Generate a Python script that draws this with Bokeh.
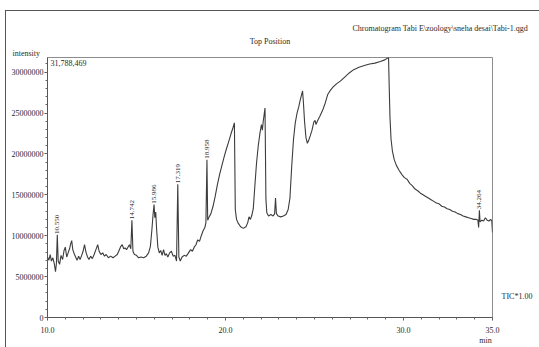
from bokeh.plotting import figure
from bokeh.models import Range1d, FixedTicker, Label, Title, LinearAxis
from bokeh.embed import file_html
from bokeh.resources import INLINE
from bokeh.core.properties import value

# ---- data (time in min, TIC intensity in millions of counts) ----
retention_time = [
    10.00, 10.08, 10.15, 10.22, 10.30, 10.38, 10.45, 10.50, 10.55, 10.60, 10.68, 10.76, 10.85, 10.93,
    11.00, 11.08, 11.16, 11.24, 11.30, 11.36, 11.42, 11.50, 11.58, 11.66, 11.75, 11.83, 11.92,
    12.00, 12.08, 12.16, 12.25, 12.33, 12.42, 12.52, 12.62, 12.72, 12.82, 12.90,
    13.00, 13.10, 13.20, 13.30, 13.42, 13.55, 13.68, 13.80, 13.92,
    14.02, 14.12, 14.20, 14.28, 14.36, 14.44, 14.52, 14.60, 14.68, 14.742, 14.80, 14.88,
    15.00, 15.12, 15.25, 15.40, 15.55, 15.68, 15.78, 15.86, 15.93, 15.986,
    16.03, 16.08, 16.13, 16.20, 16.28, 16.36, 16.44, 16.52, 16.60, 16.68, 16.76, 16.86, 16.96,
    17.06, 17.16, 17.25, 17.319, 17.38, 17.46, 17.56, 17.68, 17.80, 17.92,
    18.04, 18.14, 18.24, 18.34, 18.44, 18.54, 18.64, 18.74, 18.84, 18.90, 18.958,
    19.00, 19.08, 19.18, 19.30, 19.42, 19.55, 19.68, 19.80, 19.92,
    20.05, 20.18, 20.30, 20.42, 20.50, 20.55, 20.62, 20.72, 20.85,
    21.00, 21.15, 21.25, 21.32, 21.40, 21.48, 21.56, 21.64, 21.74, 21.84, 21.94,
    22.02, 22.07, 22.12, 22.22, 22.27, 22.32, 22.42, 22.55, 22.68, 22.76, 22.81, 22.86, 22.96,
    23.10, 23.25, 23.40, 23.52, 23.62, 23.72, 23.82, 23.92,
    24.02, 24.12, 24.20, 24.27, 24.33, 24.38, 24.44, 24.52, 24.60, 24.68, 24.76, 24.86, 24.96,
    25.03, 25.08, 25.16, 25.30, 25.45, 25.60, 25.75, 25.90,
    26.05, 26.25, 26.45, 26.70, 26.95, 27.20, 27.50, 27.80,
    28.10, 28.40, 28.70, 28.95, 29.16, 29.20, 29.24, 29.30, 29.38, 29.48, 29.60, 29.75, 29.90,
    30.05, 30.20, 30.35, 30.50, 30.65, 30.80, 30.95, 31.10, 31.25, 31.40, 31.55, 31.70, 31.85,
    32.00, 32.15, 32.30, 32.45, 32.60, 32.75, 32.90, 33.05, 33.20, 33.35, 33.50, 33.65, 33.80, 33.95,
    34.08, 34.18, 34.22, 34.264, 34.30, 34.40, 34.50, 34.60, 34.70, 34.80, 34.90, 34.96, 35.00,
]
tic_intensity = [
    7.4, 7.0, 7.7, 6.9, 7.3, 6.6, 5.6, 6.6, 10.1, 6.9, 6.5, 7.6, 7.1, 8.2,
    8.6, 7.4, 7.9, 8.4, 9.0, 9.4, 8.3, 7.8, 7.4, 7.0, 7.5, 7.1, 7.6,
    8.1, 8.9, 8.0, 7.4, 7.1, 7.5, 7.2, 7.7, 8.3, 8.9, 8.1,
    7.7, 7.9, 7.5, 7.7, 7.3, 7.5, 7.3, 7.5, 7.7,
    8.2, 8.7, 8.9, 8.4, 8.5, 8.3, 8.6, 8.9, 8.4, 11.9, 8.1, 7.7,
    7.6, 7.3, 7.4, 7.3, 7.5, 7.9, 8.7, 10.6, 12.6, 13.8,
    12.2, 12.9, 10.8, 8.6, 7.9, 8.2, 7.6, 8.3, 7.6, 7.8, 7.4, 7.9, 8.1,
    7.5, 7.6, 6.9, 16.3, 7.4, 6.9, 7.4, 7.6, 7.5, 7.9,
    8.3, 8.1, 8.6, 8.9, 9.5, 9.3, 10.0, 10.6, 11.0, 11.6, 19.3,
    11.9, 12.3, 12.7, 13.6, 14.8, 16.3, 17.6, 18.6, 19.6,
    20.6, 21.5, 22.4, 23.2, 23.8, 13.2, 12.0, 11.5, 11.1,
    10.9, 11.1, 11.6, 12.3, 12.0, 12.5, 13.3, 15.8, 18.8, 21.0, 22.6,
    23.6, 22.9, 24.0, 25.6, 14.5, 12.8, 12.4, 12.6, 12.4, 12.7, 14.6, 12.7, 12.4,
    12.3, 12.4, 12.6, 13.2, 14.6, 18.5, 21.8, 23.8,
    25.0, 25.8, 26.6, 27.2, 27.7, 26.2, 24.0, 22.0, 21.3, 21.7, 22.2, 22.9, 23.9,
    24.1, 23.6, 24.0, 24.6, 25.3, 26.2, 27.3, 27.8,
    28.2, 28.6, 28.9, 29.4, 29.9, 30.3, 30.6, 30.8,
    31.0, 31.1, 31.3, 31.5, 31.79, 28.0, 24.5, 21.8, 20.3, 19.3, 18.6, 18.0, 17.5,
    17.1, 16.9, 16.4, 16.1, 15.7, 15.5, 15.2, 15.0, 14.8, 14.6, 14.4, 14.2, 14.0,
    13.9, 13.6, 13.5, 13.3, 13.2, 13.0, 12.9, 12.7, 12.6, 12.4, 12.3, 12.2, 12.1, 12.0,
    12.0, 11.9, 11.0, 13.1, 11.7, 11.9, 11.8, 12.2, 11.9, 11.8, 12.0, 11.8, 10.4,
]

peak_times = [10.550, 14.742, 15.986, 17.319, 18.958, 34.264]
peak_heights = [10.1, 11.9, 13.8, 16.3, 19.3, 13.1]
peak_labels = ["10.550", "14.742", "15.986", "17.319", "18.958", "34.264"]

x_ticks = [10, 20, 30, 35]
x_tick_labels = ["10.0", "20.0", "30.0", "35.0"]
x_minor_ticks = list(range(10, 36))
y_ticks = [0, 5, 10, 15, 20, 25, 30]
y_tick_labels = ["0", "5000000", "10000000", "15000000", "20000000", "25000000", "30000000"]
y_minor_ticks = list(range(0, 32))
x_min, x_max = 10, 35
y_max = 31.788469  # 31,788,469 counts
max_label = "31,788,469"

FONT = "Liberation Serif"
TXT = "#2a2a2a"

W, H = 539, 347
FL, FT, FR, FB = 47, 57, 492, 318   # frame edges in canvas px

p = figure(width=W, height=H, output_backend="svg", toolbar_location=None, title=None,
           x_range=Range1d(x_min, x_max), y_range=Range1d(0, y_max),
           min_border_left=FL, min_border_right=W - FR,
           min_border_top=FT, min_border_bottom=H - FB)
p.background_fill_color = "white"
p.border_fill_color = None
# outer document frame (top and left edges) drawn as page background
p.styles = {
    "background": "linear-gradient(#555, #555) 5px 10px / 100% 1px no-repeat, "
                  "linear-gradient(#555, #555) 5px 10px / 1px 100% no-repeat, white"
}
p.xgrid.visible = False
p.ygrid.visible = False
p.outline_line_color = "#8c8c8c"
p.outline_line_width = 1

p.line(retention_time, tic_intensity, line_color="#3c3c3c", line_width=1.1)

p.text(x=peak_times, y=peak_heights, text=peak_labels, angle=90, angle_units="deg",
       text_align="left", text_baseline="middle", y_offset=-1,
       text_font=value(FONT), text_font_size="7px", text_color=TXT)

for ax in (p.xaxis[0], p.yaxis[0]):
    ax.axis_line_color = "#555555"
    ax.major_tick_line_color = "#555555"
    ax.minor_tick_line_color = "#666666"
    ax.major_tick_in = 0
    ax.major_tick_out = 3
    ax.minor_tick_in = 0
    ax.minor_tick_out = 2
    ax.major_label_text_font = FONT
    ax.major_label_text_font_size = "8px"
    ax.major_label_text_color = TXT

p.xaxis[0].ticker = FixedTicker(ticks=x_ticks, minor_ticks=x_minor_ticks)
p.xaxis[0].major_label_overrides = dict(zip(x_ticks, x_tick_labels))
p.xaxis[0].major_label_standoff = 6
p.yaxis[0].ticker = FixedTicker(ticks=y_ticks, minor_ticks=y_minor_ticks)
p.yaxis[0].major_label_overrides = dict(zip(y_ticks, y_tick_labels))
p.yaxis[0].major_label_standoff = 1

# helpers: canvas pixel position -> data position (for text placed around the frame)
def dx(cx):
    return x_min + (cx - FL) * (x_max - x_min) / (FR - FL)

def dy(cy):
    return (FB - cy) * y_max / (FB - FT)

# max-intensity label inside the frame
p.add_layout(Label(text=max_label, x=dx(50), y=dy(63), text_align="left", text_baseline="middle",
                   text_font=FONT, text_font_size="8px", text_color=TXT))

# texts above the frame (titles stack outward from the frame)
def title(text, align, offset, standoff):
    p.add_layout(Title(text=text, align=align, offset=offset, standoff=standoff,
                       text_font=FONT, text_font_size="8px", text_font_style="normal",
                       text_color=TXT), "above")

title("intensity", "left", 12 - FL, 0)
title("Top Position", "center", 267 - (FL + FR) / 2, 2)
title("Chromatogram Tabi E\\zoology\\sneha desai\\Tabi-1.qgd", "left", 352 - FL, 2)

# "TIC*1.00" to the right of the frame, as a tick-less right axis label
tic_axis = LinearAxis(ticker=FixedTicker(ticks=[dy(297)], minor_ticks=[]),
                      major_label_overrides={dy(297): "TIC*1.00"},
                      axis_line_color=None, major_tick_line_color=None, minor_tick_line_color=None,
                      major_tick_out=0, major_tick_in=0, minor_tick_out=0, minor_tick_in=0,
                      major_label_standoff=9, major_label_text_font=FONT,
                      major_label_text_font_size="8px", major_label_text_color=TXT)
p.add_layout(tic_axis, "right")

# "min" unit under the 35.0 tick, as a second tick-less bottom axis
min_axis = LinearAxis(ticker=FixedTicker(ticks=[dx(485)], minor_ticks=[]),
                      major_label_overrides={dx(485): "min"},
                      axis_line_color=None, major_tick_line_color=None, minor_tick_line_color=None,
                      major_tick_out=0, major_tick_in=0, minor_tick_out=0, minor_tick_in=0,
                      major_label_standoff=0, major_label_text_font=FONT,
                      major_label_text_font_size="8px", major_label_text_color=TXT)
p.add_layout(min_axis, "below")

open("out.html", "w").write(file_html(p, INLINE))
